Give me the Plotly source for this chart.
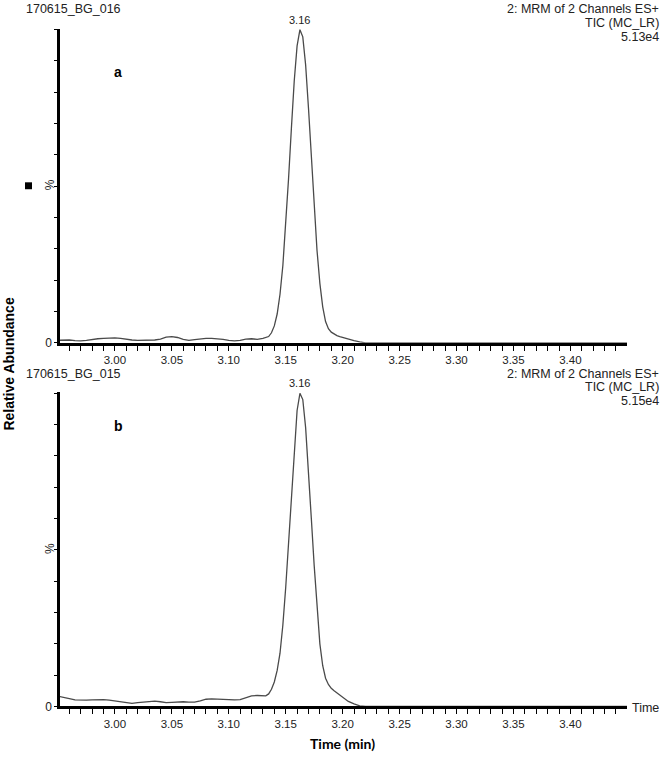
import plotly.graph_objects as go

# ---------------- data ----------------
time_min = [2.950, 2.955, 2.960, 2.965, 2.970, 2.975, 2.980, 2.985, 2.990, 2.995,
            3.000, 3.005, 3.010, 3.015, 3.020, 3.025, 3.030, 3.035, 3.040, 3.045,
            3.050, 3.055, 3.060, 3.065, 3.070, 3.075, 3.080, 3.085, 3.090, 3.095,
            3.100, 3.105, 3.110, 3.115, 3.120, 3.125, 3.130,
            3.1325, 3.135, 3.1375, 3.140, 3.1425, 3.145, 3.1475, 3.150, 3.1525, 3.155,
            3.1575, 3.160, 3.1625, 3.165, 3.1675, 3.170, 3.1725, 3.175, 3.1775, 3.180,
            3.1825, 3.185, 3.1875, 3.190, 3.1925, 3.195, 3.1975, 3.200, 3.205, 3.210,
            3.215, 3.220, 3.450]

abund_a = [0.8, 0.9, 0.9, 0.7, 0.6, 0.8, 1.1, 1.3, 1.4, 1.5,
           1.6, 1.4, 1.1, 0.9, 0.8, 0.8, 0.8, 0.9, 1.2, 1.8,
           2.0, 1.7, 1.1, 0.8, 1.0, 1.3, 1.4, 1.4, 1.3, 1.1,
           0.8, 0.6, 0.8, 1.2, 1.3, 1.1, 1.4,
           1.6, 2.0, 3.2, 5.4, 9.2, 15.5, 24.7, 37.2, 52.4, 68.5,
           83.7, 94.8, 100.0, 97.7, 88.7, 75.0, 58.8, 43.0, 29.5, 19.0,
           11.5, 6.8, 4.5, 3.4, 2.8, 2.3, 2.0, 1.7, 1.2, 0.7,
           0.3, 0.0, 0.0]

abund_b = [3.3, 3.0, 2.5, 2.1, 2.0, 2.0, 2.1, 2.2, 2.2, 2.0,
           1.8, 1.5, 1.2, 1.0, 1.2, 1.4, 1.6, 1.7, 1.5, 1.2,
           1.3, 1.5, 1.5, 1.4, 1.4, 1.8, 2.3, 2.4, 2.3, 2.2,
           2.1, 2.1, 2.2, 2.7, 3.4, 3.5, 3.3,
           3.4, 4.0, 5.5, 7.8, 11.5, 17.0, 26.0, 38.0, 52.5, 68.0,
           83.0, 94.5, 100.0, 98.0, 89.0, 76.0, 60.0, 45.0, 31.0, 20.0,
           13.0, 9.0, 7.0, 5.8, 5.0, 4.3, 3.6, 2.8, 1.6, 0.8,
           0.2, 0.0, 0.0]

x_ticks = [3.00, 3.05, 3.10, 3.15, 3.20, 3.25, 3.30, 3.35, 3.40]
y_ticks = [0, 10, 20, 30, 40, 50, 60, 70, 80, 90, 100]
y_ticktext = ["0", "", "", "", "", "", "", "", "", "", ""]

peak_time = 3.1625
peak_label = "3.16"
file_a = "170615_BG_016"
file_b = "170615_BG_015"
header_lines = ["2: MRM of 2 Channels ES+", "TIC (MC_LR)"]
scale_a = "5.13e4"
scale_b = "5.15e4"

# ---------------- figure ----------------
W, H = 666, 761
def px(x):
    return x / W
def py(y):
    return 1 - y / H

LINE = "#4a4a4a"
FONT = "Liberation Sans, Arial, sans-serif"

fig = go.Figure()
fig.add_trace(go.Scatter(x=time_min, y=abund_a, mode="lines",
                         line=dict(color=LINE, width=1.3), xaxis="x", yaxis="y",
                         showlegend=False, hoverinfo="skip"))
fig.add_trace(go.Scatter(x=time_min, y=abund_b, mode="lines",
                         line=dict(color=LINE, width=1.3), xaxis="x2", yaxis="y2",
                         showlegend=False, hoverinfo="skip"))

xr = [2.9518, 3.4497]
yr = [0, 100.3]

def xaxis_cfg(anchor):
    return dict(domain=[px(60), px(627)], range=xr, anchor=anchor,
                showline=True, linecolor="black", linewidth=2.5,
                showgrid=False, zeroline=False,
                tickvals=x_ticks, tickformat=".2f",
                ticks="outside", ticklen=5, tickwidth=1, tickcolor="black",
                minor=dict(dtick=0.01, tick0=3.0, ticks="outside", ticklen=5,
                           tickwidth=1, tickcolor="black", showgrid=False),
                tickfont=dict(family=FONT, size=11.5, color="#222"))

def yaxis_cfg(anchor, top_px, bot_px):
    return dict(domain=[py(bot_px), py(top_px)], range=yr, anchor=anchor,
                showline=True, linecolor="black", linewidth=2.5,
                showgrid=False, zeroline=False,
                tickvals=y_ticks, ticktext=y_ticktext,
                ticks="outside", ticklen=3, tickwidth=1, tickcolor="black",
                tickfont=dict(family=FONT, size=12, color="#222"))

fig.update_layout(
    width=W, height=H,
    margin=dict(l=0, r=0, t=0, b=0),
    paper_bgcolor="white", plot_bgcolor="white",
    xaxis=xaxis_cfg("y"),
    yaxis=yaxis_cfg("x", 29, 346),
    xaxis2=xaxis_cfg("y2"),
    yaxis2=yaxis_cfg("x2", 396, 713),
)

ann = []
def txt(x, y, s, size=12, xanchor="left", family=FONT, bold=False, angle=0, color="#222"):
    ann.append(dict(x=px(x), y=py(y), xref="paper", yref="paper", text=("<b>%s</b>" % s) if bold else s,
                    showarrow=False, xanchor=xanchor, yanchor="middle", textangle=angle,
                    font=dict(family=family, size=size, color=color)))

# headers
for top, fname, scale in [(9, file_a, scale_a), (377, file_b, scale_b)]:
    txt(24, top, fname, size=12.5)
    txt(661, top, header_lines[0], xanchor="right", size=12.5)
    txt(661, top + 14, header_lines[1], xanchor="right", size=12.5)
    txt(661, top + 28, scale, xanchor="right", size=12.5)

# percent signs
txt(50, 187, "%", size=12, xanchor="center", angle=-90)
txt(50, 554, "%", size=12, xanchor="center", angle=-90)
# panel letters
txt(118, 73, "a", size=14, xanchor="center", bold=True, color="black")
txt(118, 430, "b", size=14, xanchor="center", bold=True, color="black")
# axis titles
txt(342, 750, "Time (min)", size=14, xanchor="center", family="Lato, sans-serif", bold=True, color="black")
txt(9, 367, "Relative Abundance", size=14, xanchor="center", bold=True,
    angle=-90, color="black")
txt(630, 715, "Time", size=12.5)

# peak labels
for ya in ["y", "y2"]:
    xa = "x" if ya == "y" else "x2"
    ann.append(dict(x=peak_time, y=100, xref=xa, yref=ya, text=peak_label, showarrow=False,
                    xanchor="center", yanchor="bottom", yshift=2,
                    font=dict(family=FONT, size=11, color="#222")))

fig.update_layout(annotations=ann)

# small black square artefact left of the top y axis
fig.add_shape(type="rect", xref="paper", yref="paper",
              x0=px(25), x1=px(32), y0=py(191), y1=py(184),
              fillcolor="black", line=dict(width=0))

fig.write_html("out.html", config={"displayModeBar": False},
               post_script="document.body.style.margin='0';document.body.style.overflow='hidden';")
